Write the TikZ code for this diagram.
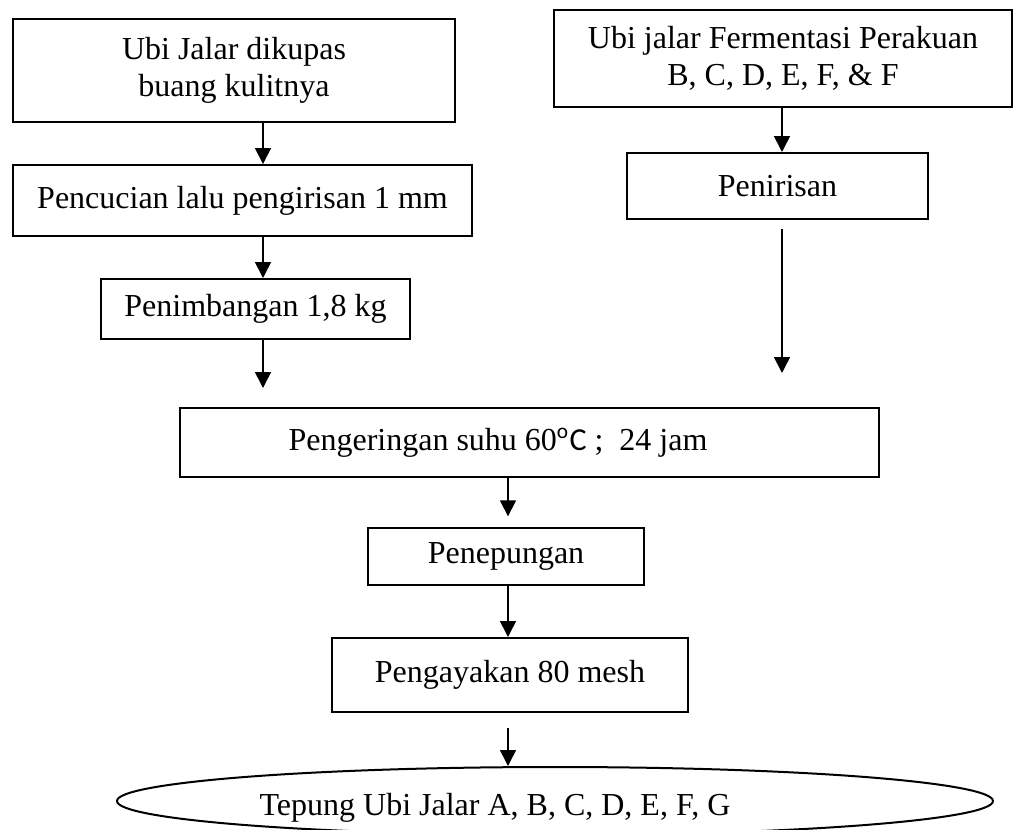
\documentclass[tikz,border=0pt]{standalone}
\usepackage{fontspec}
\setmainfont{Liberation Serif}
\newfontfamily\carlito{Carlito}
\usetikzlibrary{arrows.meta,shapes.geometric}

\begin{document}
\begin{tikzpicture}[
  x=0.375pt, y=-0.375pt, font={\fontsize{12}{13.9}\selectfont},
  stepbox/.style={draw, line width=0.75pt, inner sep=0pt, align=center},
  endbox/.style={ellipse, draw, line width=0.75pt, inner sep=0pt},
  arr/.style={-{Triangle[length=6pt,width=6pt]}, line width=0.6pt}
]
\useasboundingbox (0,0) rectangle (1013,830);

\coordinate (lx) at (263,0);
\coordinate (rx) at (782,0);
\coordinate (cx) at (508,0);

\node[stepbox, minimum width=165.75pt, minimum height=38.6pt] (peel) at (234,70.5) {Ubi Jalar dikupas\\buang kulitnya};
\node[stepbox, minimum width=172.1pt, minimum height=26.6pt] (wash) at (242.5,200.5) {Pencucian lalu pengirisan 1 mm};
\node[stepbox, minimum width=115.9pt, minimum height=22.5pt] (weigh) at (255.5,309) {Penimbangan 1,8 kg};

\node[stepbox, minimum width=171.75pt, minimum height=36.4pt] (ferm) at (783,58.5) {Ubi jalar Fermentasi Perakuan\\B, C, D, E, F, \& F};
\node[stepbox, minimum width=112.9pt, minimum height=24.75pt] (drain) at (777.5,186) {Penirisan};

\node[stepbox, minimum width=262.1pt, minimum height=25.9pt] (dry) at (529.5,442.5) {Pengeringan suhu 60{\carlito\textsuperscript{o}C} ;\ \ 24 jam\hspace*{23.6pt}};
\node[stepbox, minimum width=103.5pt, minimum height=21.4pt] (mill) at (506,556.5) {Penepungan};
\node[stepbox, minimum width=133.5pt, minimum height=27.75pt] (sieve) at (510,675) {Pengayakan 80 mesh};
\node[endbox, minimum width=328.5pt, minimum height=25.5pt, text height=10.5pt, text depth=0pt] (flour) at (555,801) {Tepung Ubi Jalar A, B, C, D, E, F, G\hspace*{45pt}};

\coordinate (lend) at (263,388);
\coordinate (rend) at (782,373);

\draw[arr] (peel.south -| lx) -- (wash.north -| lx);
\draw[arr] (wash.south -| lx) -- (weigh.north -| lx);
\draw[arr] (weigh.south -| lx) -- (lend);
\draw[arr] (ferm.south -| rx) -- (drain.north -| rx);
\draw[arr, shorten <=3.4pt] (drain.south -| rx) -- (rend);
\draw[arr, shorten >=4pt] (dry.south -| cx) -- (mill.north -| cx);
\draw[arr] (mill.south -| cx) -- (sieve.north -| cx);
\draw[arr, shorten <=5.6pt] (sieve.south -| cx) -- (flour.north -| cx);
\end{tikzpicture}
\end{document}
